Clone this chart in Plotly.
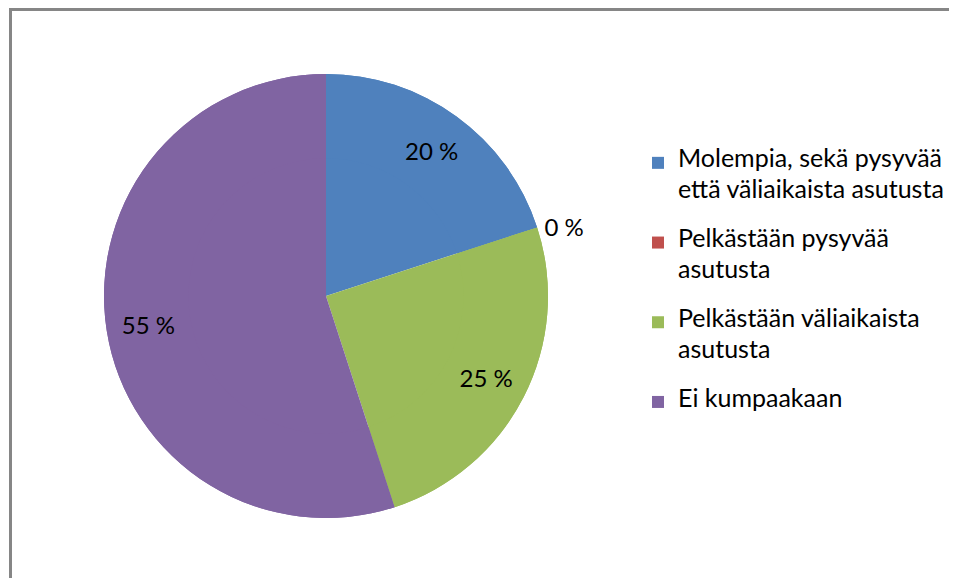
import plotly.graph_objects as go

labels = [
    "Molempia, sekä pysyvää<br>että väliaikaista asutusta",
    "Pelkästään pysyvää<br>asutusta",
    "Pelkästään väliaikaista<br>asutusta",
    "Ei kumpaakaan",
]
values = [20, 0, 25, 55]
colors = ["#4F81BD", "#C0504D", "#9BBB59", "#8064A2"]
text_positions = ["inside", "outside", "inside", "inside"]

# page body has an 8px margin; the figure fills the rest of the window
W, H = 949, 570
FONT = "Lato"
LEGEND_TEXT_SIZE = 25
LEGEND_BASE_SIZE = 11.8  # sets legend line pitch (Excel-like spacing)


def legend_label(label):
    """Legend entry text: first line level with the swatch, entries
    spaced like the original legend."""
    parts = label.split("<br>")
    big = ['<span style="font-size:%dpx">%s</span>' % (LEGEND_TEXT_SIZE, p) for p in parts]
    lines = ["", ""] + [big[0], "", big[1] if len(big) > 1 else ""]
    return "<br>".join(lines)


display_labels = [legend_label(l) for l in labels]

cx, cy, r = 318, 288, 222
dom_x = [(cx - r) / W, (cx + r) / W]
dom_y = [(H - cy - r) / H, (H - cy + r) / H]

fig = go.Figure()
# full pie (fill)
fig.add_trace(go.Pie(
    labels=display_labels, values=values, sort=False, direction="clockwise",
    marker=dict(colors=colors, line=dict(width=0)),
    textinfo="none", showlegend=False, hoverinfo="skip",
    domain=dict(x=dom_x, y=dom_y),
))
# ring on top carrying the data labels and the legend
fig.add_trace(go.Pie(
    labels=display_labels, values=values, sort=False, direction="clockwise",
    marker=dict(colors=colors, line=dict(width=0)),
    hole=0.62,
    texttemplate="%{value} %",
    textposition=text_positions,
    insidetextorientation="horizontal",
    textfont=dict(family=FONT, size=24, color="#000000"),
    showlegend=True, hoverinfo="skip",
    domain=dict(x=dom_x, y=dom_y),
))

fig.update_layout(
    width=W, height=H,
    margin=dict(l=0, r=0, t=0, b=0),
    paper_bgcolor="white",
    font=dict(family=FONT, size=24, color="#000000"),
    legend=dict(
        x=630 / W, xanchor="left",
        y=1 - 110 / H, yanchor="top",
        font=dict(family=FONT, size=LEGEND_BASE_SIZE, color="#000000"),
        bgcolor="rgba(0,0,0,0)",
    ),
    shapes=[dict(
        type="rect", xref="paper", yref="paper",
        x0=2.5 / W, x1=1.05, y0=-0.05, y1=1 - 1.5 / H,
        line=dict(color="#868686", width=3), fillcolor="rgba(0,0,0,0)",
        layer="below",
    )],
)

fig.write_html("out.html")
